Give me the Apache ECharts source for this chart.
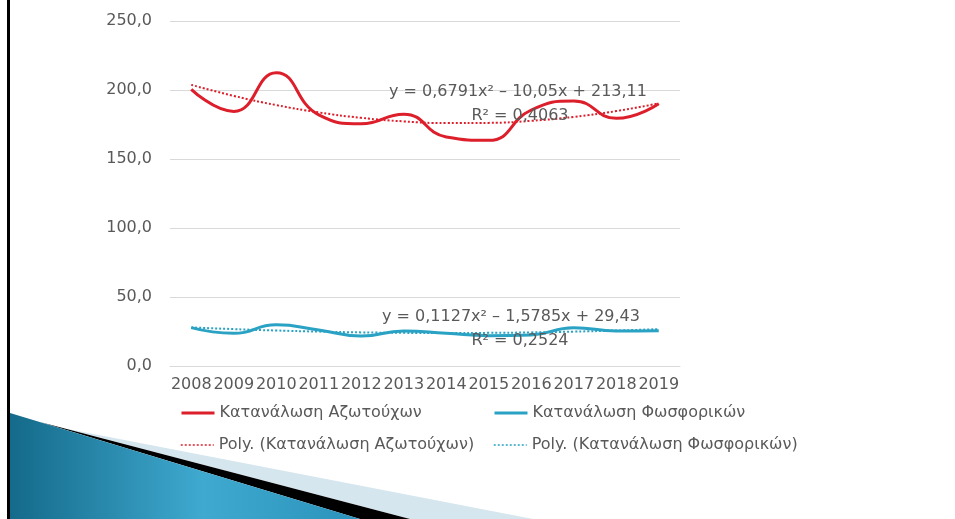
<!DOCTYPE html>
<html>
<head>
<meta charset="utf-8">
<script src="https://cdn.jsdelivr.net/npm/echarts@6/dist/echarts.min.js"></script>
<style>
  html, body { margin: 0; padding: 0; background: #ffffff; }
  #chart { width: 955px; height: 519px; }
</style>
</head>
<body>
<div id="chart"></div>
<script>
// Fertilizer consumption per year
const years = ['2008','2009','2010','2011','2012','2013','2014','2015','2016','2017','2018','2019'];
const nitrogen = [200.5, 184.5, 212.5, 182, 175.5, 182.5, 166, 163.5, 185.5, 192, 179.5, 190];
const phosphate = [27.8, 23.7, 29.9, 26.1, 21.7, 25.4, 23.7, 22.0, 22.5, 27.8, 25.4, 25.6];

// Polynomial (order 2) trendline coefficients [a, b, c] for y = a·x² + b·x + c, x = 1..n
const nitrogenFit = [0.6791, -10.05, 213.11];
const phosphateFit = [0.1127, -1.5785, 29.43];
const nitrogenR2 = '0,4063';
const phosphateR2 = '0,2524';

const yTicks = [0, 50, 100, 150, 200, 250];

const names = {
  n: 'Κατανάλωση Αζωτούχων',
  p: 'Κατανάλωση Φωσφορικών',
  pn: 'Poly. (Κατανάλωση Αζωτούχων)',
  pp: 'Poly. (Κατανάλωση Φωσφορικών)'
};

const RED = '#dc1f2b';
const BLUE = '#2aa2c4';
const TEXT = '#595959';
const FONT = 'DejaVu Sans';
const FS = 16;

function trend(coef) {
  return years.map((_, i) => {
    const x = i + 1;
    return +(coef[0] * x * x + coef[1] * x + coef[2]).toFixed(3);
  });
}
function fmtNum(v, d) {
  return Math.abs(v).toFixed(d).replace('.', ',');
}
function equation(coef) {
  const dec = c => { const s = String(Math.abs(c)); const k = s.indexOf('.'); return k < 0 ? 0 : s.length - k - 1; };
  const b = coef[1], c = coef[2];
  return 'y = ' + fmtNum(coef[0], dec(coef[0])) + 'x² ' + (b < 0 ? '– ' : '+ ') + fmtNum(b, dec(b)) +
         'x ' + (c < 0 ? '– ' : '+ ') + fmtNum(c, dec(c));
}

const chart = echarts.init(document.getElementById('chart'), null, { renderer: 'canvas' });

const legendText = { color: TEXT, fontFamily: FONT, fontSize: FS };
function legendAt(name, left, top, lineWidth) {
  return {
    data: [name], left: left, top: top, orient: 'horizontal',
    itemWidth: 33, itemHeight: 14, itemGap: 0, padding: 0,
    itemStyle: { opacity: 0 },
    lineStyle: { width: lineWidth },
    textStyle: legendText, selectedMode: false
  };
}
const labelFont = FS + 'px "' + FONT + '"';

chart.setOption({
  animation: false,
  backgroundColor: '#ffffff',
  textStyle: { fontFamily: FONT },
  grid: { left: 170, right: 275, top: 21, bottom: 153, containLabel: false },
  xAxis: {
    type: 'category',
    data: years,
    boundaryGap: true,
    axisLine: { show: true, lineStyle: { color: '#d9d9d9', width: 1 } },
    axisTick: { show: false },
    axisLabel: { color: TEXT, fontFamily: FONT, fontSize: FS, margin: 11, interval: 0 }
  },
  yAxis: {
    type: 'value',
    min: yTicks[0], max: yTicks[yTicks.length - 1], interval: 50,
    axisLine: { show: false },
    axisTick: { show: false },
    splitLine: { lineStyle: { color: '#d9d9d9', width: 1 } },
    axisLabel: { color: TEXT, fontFamily: FONT, fontSize: FS, margin: 18,
                 formatter: v => fmtNum(v, 1) }
  },
  legend: [
    legendAt(names.n, 180, 405, 3),
    legendAt(names.p, 493, 405, 3),
    legendAt(names.pn, 180, 437, 1.5),
    legendAt(names.pp, 493, 437, 1.5)
  ],
  series: [
    { name: names.pn, type: 'line', data: trend(nitrogenFit), smooth: true, symbol: 'none',
      lineStyle: { color: RED, width: 2, type: [2, 2] }, itemStyle: { color: RED }, z: 2 },
    { name: names.pp, type: 'line', data: trend(phosphateFit), smooth: true, symbol: 'none',
      lineStyle: { color: BLUE, width: 2, type: [2, 2] }, itemStyle: { color: BLUE }, z: 2 },
    { name: names.n, type: 'line', data: nitrogen, smooth: 0.5, symbol: 'none',
      lineStyle: { color: RED, width: 3 }, itemStyle: { color: RED }, z: 3 },
    { name: names.p, type: 'line', data: phosphate, smooth: 0.5, symbol: 'none',
      lineStyle: { color: BLUE, width: 3 }, itemStyle: { color: BLUE }, z: 3 }
  ],
  graphic: [
    // frame edge on the left
    { type: 'rect', shape: { x: 7, y: 0, width: 3, height: 519 }, style: { fill: '#000000' }, z: 1 },
    // pale reflection band
    { type: 'polygon', z: 0,
      shape: { points: [[65, 428.5], [533, 519], [410, 519]] },
      style: { fill: '#d5e6ee' } },
    // dark shadow stripe
    { type: 'polygon', z: 0,
      shape: { points: [[40, 422], [410, 519], [360, 519]] },
      style: { fill: '#000000' } },
    // blue wedge
    { type: 'polygon', z: 0,
      shape: { points: [[10, 413], [360, 519], [10, 519]] },
      style: { fill: new echarts.graphic.LinearGradient(0, 0, 1, 0, [
        { offset: 0, color: '#146a8a' },
        { offset: 0.55, color: '#3fa9cf' },
        { offset: 1, color: '#2b93bb' }
      ]) } },
    // trendline equations
    { type: 'text', z: 10, style: { text: equation(nitrogenFit), x: 518, y: 92, align: 'center', verticalAlign: 'middle',
      fill: TEXT, font: labelFont } },
    { type: 'text', z: 10, style: { text: 'R² = ' + nitrogenR2, x: 520, y: 116, align: 'center', verticalAlign: 'middle',
      fill: TEXT, font: labelFont } },
    { type: 'text', z: 10, style: { text: equation(phosphateFit), x: 511, y: 317, align: 'center', verticalAlign: 'middle',
      fill: TEXT, font: labelFont } },
    { type: 'text', z: 10, style: { text: 'R² = ' + phosphateR2, x: 520, y: 341, align: 'center', verticalAlign: 'middle',
      fill: TEXT, font: labelFont } }
  ]
});
</script>
</body>
</html>
